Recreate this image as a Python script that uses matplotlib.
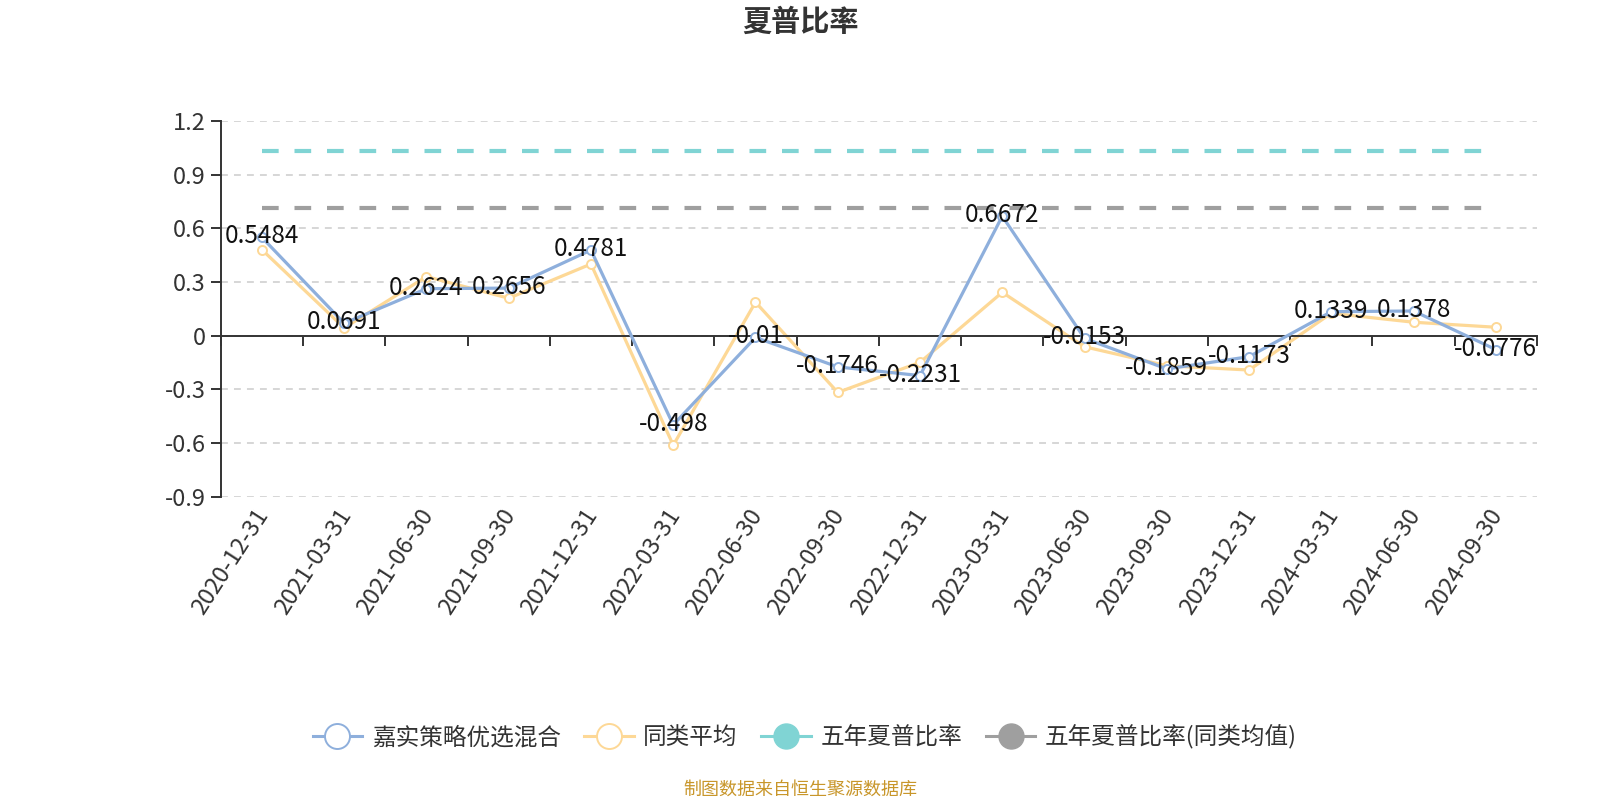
import numpy as np
import matplotlib.pyplot as plt
from matplotlib.lines import Line2D
from matplotlib import transforms

plt.rcParams['font.family'] = ['Noto Sans CJK SC', 'DejaVu Sans']

# 夏普比率数据
datas = ['2020-12-31', '2021-03-31', '2021-06-30', '2021-09-30', '2021-12-31',
         '2022-03-31', '2022-06-30', '2022-09-30', '2022-12-31', '2023-03-31',
         '2023-06-30', '2023-09-30', '2023-12-31', '2024-03-31', '2024-06-30',
         '2024-09-30']
fundo = [0.5484, 0.0691, 0.2624, 0.2656, 0.4781, -0.498, -0.01, -0.1746,
         -0.2231, 0.6672, -0.0153, -0.1859, -0.1173, 0.1339, 0.1378, -0.0776]
media_classe = [0.48, 0.043, 0.33, 0.209, 0.40, -0.612, 0.187, -0.317,
                -0.149, 0.242, -0.062, -0.168, -0.192, 0.125, 0.075, 0.047]
sharpe_5anos = 1.03
sharpe_5anos_classe = 0.711

nomes = ['嘉实策略优选混合', '同类平均', '五年夏普比率', '五年夏普比率(同类均值)']
cores = ['#8eafdc', '#fdd896', '#80d4d4', '#9f9f9f']

fig = plt.figure(figsize=(16, 8), dpi=100)
ax = fig.add_axes([0.138, 0.379, 0.8226, 0.470])

x = np.arange(len(datas))

ax.plot(x, [sharpe_5anos] * len(x), color=cores[2], lw=3, dashes=(4, 3.8), zorder=2)
ax.plot(x, [sharpe_5anos_classe] * len(x), color=cores[3], lw=3, dashes=(4, 3.8), zorder=2)

ax.plot(x, media_classe, color=cores[1], lw=2.3, marker='o', ms=6.5,
        mfc='white', mec=cores[1], mew=1.4, zorder=3)
ax.plot(x, fundo, color=cores[0], lw=2.3, marker='o', ms=6.5,
        mfc='white', mec=cores[0], mew=1.4, zorder=4)

# rótulos da série principal
for xi, yi in zip(x, fundo):
    ax.annotate(f'{yi:g}', (xi, yi), xytext=(0, -6), textcoords='offset pixels',
                ha='center', va='baseline', fontsize=17.5, color='#111111', zorder=5)

ax.set_xlim(-0.5, len(x) - 0.5)
ax.set_ylim(-0.9, 1.2)
ax.set_yticks([-0.9, -0.6, -0.3, 0, 0.3, 0.6, 0.9, 1.2])
ax.set_yticklabels(['-0.9', '-0.6', '-0.3', '0', '0.3', '0.6', '0.9', '1.2'])
ax.yaxis.grid(True, color='#cccccc', lw=1.1, linestyle=(0, (4.5, 4)))
ax.set_axisbelow(True)

ax.spines['top'].set_visible(False)
ax.spines['right'].set_visible(False)
ax.spines['left'].set_color('#333333')
ax.spines['left'].set_linewidth(1.4)
ax.spines['bottom'].set_position(('data', 0))
ax.spines['bottom'].set_color('#333333')
ax.spines['bottom'].set_linewidth(1.4)
ax.spines['bottom'].set_zorder(3)

ax.set_xticks(np.arange(len(x) + 1) - 0.5)
ax.set_xticklabels([])
ax.tick_params(axis='x', direction='out', length=7, width=1.4, color='#333333')
ax.tick_params(axis='y', direction='out', length=7, width=1.4, color='#333333',
               labelsize=17, labelcolor='#333333', pad=4)

# datas em baixo, rodadas
trans = transforms.blended_transform_factory(ax.transData, ax.transAxes)
trans = transforms.offset_copy(trans, fig=fig, x=2, y=-14, units='dots')
for xi, d in zip(x, datas):
    ax.text(xi, 0, d, transform=trans, rotation=57, rotation_mode='anchor',
            ha='right', va='center', fontsize=17, color='#333333')

fig.text(0.5, 1 - 22 / 800, '夏普比率', ha='center', va='center',
         fontsize=21, fontweight='bold', color='#333333')

handles = [
    Line2D([], [], color=cores[0], lw=2.2, marker='o', ms=18, mfc='white', mec=cores[0], mew=1.4),
    Line2D([], [], color=cores[1], lw=2.2, marker='o', ms=18, mfc='white', mec=cores[1], mew=1.4),
    Line2D([], [], color=cores[2], lw=2.2, marker='o', ms=18, mfc=cores[2], mec=cores[2]),
    Line2D([], [], color=cores[3], lw=2.2, marker='o', ms=18, mfc=cores[3], mec=cores[3]),
]
fig.legend(handles, nomes, loc='center', bbox_to_anchor=(0.503, 1 - 737 / 800),
           ncol=4, frameon=False, fontsize=17, handlelength=2.1, handletextpad=0.4,
           columnspacing=1.0, labelcolor='#333333')

fig.text(0.5, 1 - 790 / 800, '制图数据来自恒生聚源数据库', ha='center', va='center',
         fontsize=13, color='#c8962a')

fig.savefig('out.png', dpi=100)
